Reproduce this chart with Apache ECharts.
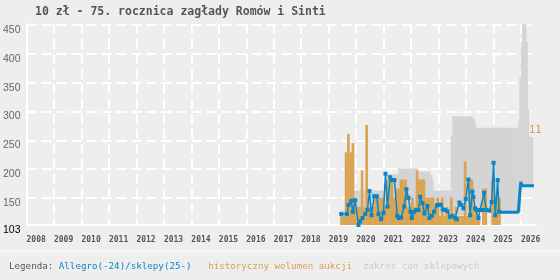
<!DOCTYPE html>
<html><head><meta charset="utf-8">
<script src="https://cdn.jsdelivr.net/npm/echarts@6/dist/echarts.min.js"></script>
<style>html,body{margin:0;padding:0;background:#eeeeee}#c{width:560px;height:280px}</style>
</head><body><div id="c"></div>
<script>
const titleText = '10 zł - 75. rocznica zagłady Romów i Sinti';
const yearTicks = [2008,2009,2010,2011,2012,2013,2014,2015,2016,2017,2018,2019,2020,2021,2022,2023,2024,2025,2026];
const priceTicks = [103,150,200,250,300,350,400,450];
const volumeTicks = [11];

// monthly auction volume, first month = June 2019
const volumeStartYear = 2019, volumeStartMonth = 6;
const volumes = [1,1,8,10,8,9,2,2,2,6,2,11,2,2,2,3,3,3,3,2,5,5,5,3,4,4,5,5,5,2,2,3,2,6,5,5,5,3,3,3,3,2,3,1,3,1,2,1,3,1,2,1,1,1,7,1,5,5,2,2,1,0,4,4,0,0,5,3,3,3];

// Allegro prices (decimal year, price)
const allegroDates = [2019.455,2019.662,2019.72,2019.818,2019.88,2019.964,2020.084,2020.145,2020.229,2020.327,2020.411,2020.484,2020.556,2020.655,2020.753,2020.811,2020.909,2020.993,2021.065,2021.138,2021.236,2021.298,2021.393,2021.491,2021.553,2021.636,2021.745,2021.829,2021.902,2021.975,2022.025,2022.109,2022.182,2022.265,2022.327,2022.411,2022.484,2022.593,2022.665,2022.753,2022.836,2022.935,2022.993,2023.08,2023.153,2023.236,2023.32,2023.418,2023.502,2023.6,2023.662,2023.756,2023.818,2023.902,2023.989,2024.084,2024.145,2024.229,2024.265,2024.327,2024.389,2024.447,2024.509,2024.58,2024.655,2024.73,2024.85,2024.93,2025.0,2025.06,2025.15,2025.2];
const allegroPrices = [122,122,138,145,126,146,103,109,115,122,129,162,120,153,153,122,113,124,192,135,186,181,181,119,115,116,135,165,150,126,115,126,129,129,152,141,123,136,115,119,126,137,138,138,130,129,127,117,119,115,113,142,138,132,148,182,120,161,152,132,129,115,129,129,159,129,128,143,211,120,181,126];

// shop prices (thick line)
const shopDates = [2025.27,2025.90,2025.99,2026.03,2026.47];
const shopPrices = [125,125,178,171,171];

// shop price range (grey band), each value holds until the next date
const rangeDates = [2019.42,2019.60,2019.89,2021.05,2021.53,2022.25,2022.69,2022.76,2022.80,2023.44,2023.50,2024.24,2024.29,2024.35,2025.27,2025.90,2025.94,2025.99,2026.04,2026.18,2026.23,2026.28,2026.43];
const rangeLow  = [118,118,118,118,118,118,118,118,118,120,120,120,122,125,125,125,125,171,171,171,171,171,171];
const rangeHigh = [128,140,163,191,201,196,190,182,163,259,292,288,281,272,272,285,360,421,452,421,303,256,256];

const volData = volumes.map((v,i)=>{
  const m = volumeStartMonth - 1 + i;
  return [volumeStartYear + m/12, volumeStartYear + (m+1)/12, v];
});
const bandData = [];
for (let i=0;i<rangeDates.length-1;i++) bandData.push([rangeDates[i], rangeDates[i+1], rangeLow[i], rangeHigh[i]]);
const allegroData = allegroDates.map((d,i)=>[d, allegroPrices[i]]);
const shopData = shopDates.map((d,i)=>[d, shopPrices[i]]);

const chart = echarts.init(document.getElementById('c'), null, {renderer:'canvas'});
const mono = 'DejaVu Sans Mono';
const blue = '#0a86c8', orange = '#d9a553';

function bandItem(params, api){
  const p0 = api.coord([api.value(0), api.value(3)]);
  const p1 = api.coord([api.value(1), api.value(2)]);
  return {type:'rect', shape:{x:p0[0], y:p0[1], width:p1[0]-p0[0]+0.5, height:p1[1]-p0[1]}, style:{fill:'#d4d4d4'}};
}
function barItem(params, api){
  const p0 = api.coord([api.value(0), api.value(2)]);
  const p1 = api.coord([api.value(1), 0]);
  return {type:'rect', shape:{x:p0[0], y:p0[1], width:p1[0]-p0[0]+0.4, height:p1[1]-p0[1]}, style:{fill:orange}};
}

chart.setOption({
  backgroundColor:'#eeeeee',
  animation:false,
  title:{text:titleText,left:35,top:6,padding:0,textStyle:{fontFamily:mono,fontSize:11.5,fontWeight:'bold',color:'#555555'}},
  grid:{left:26,right:24,top:24,bottom:55,containLabel:false},
  xAxis:{type:'value',min:2008,max:2026.545,
    axisLine:{show:true,lineStyle:{color:'#ffffff',width:2}},
    axisTick:{show:false,customValues:yearTicks},
    axisLabel:{customValues:yearTicks,align:'left',margin:11,fontFamily:mono,fontSize:8,fontWeight:'bold',color:'#555555',formatter:v=>String(v)},
    splitLine:{show:true,lineStyle:{color:'#ffffff',width:2,type:[10,5]}}
  },
  yAxis:[{type:'value',min:103,max:452,
    axisLine:{show:true,lineStyle:{color:'#ffffff',width:2}},
    axisTick:{show:false,customValues:priceTicks},
    axisLabel:{customValues:priceTicks,margin:6,fontFamily:'Liberation Sans',fontSize:10.5,verticalAlign:'top',lineHeight:10,
      color:(v)=> (Number(v)===103 ? '#000000' : '#666666')},
    splitLine:{show:true,lineStyle:{color:'#ffffff',width:2,type:[10,5]}}
  },{type:'value',min:0,max:22.1,position:'right',
    axisLine:{show:false},axisTick:{show:false,customValues:volumeTicks},splitLine:{show:false},
    axisLabel:{customValues:volumeTicks,margin:-7,fontFamily:mono,fontSize:10.5,color:'#d8a050',verticalAlign:'top',lineHeight:10}
  }],
  series:[
    {type:'custom',renderItem:bandItem,data:bandData,encode:{x:[0,1],y:[2,3]},silent:true,z:1},
    {type:'custom',yAxisIndex:1,renderItem:barItem,data:volData,encode:{x:[0,1],y:2},silent:true,z:2},
    {type:'line',data:allegroData,symbol:'rect',symbolSize:4,showSymbol:true,lineStyle:{color:blue,width:1.5},itemStyle:{color:blue},silent:true,z:3},
    {type:'line',data:shopData,symbol:'none',lineStyle:{color:blue,width:3},silent:true,z:3}
  ],
  graphic:[
    {type:'rect',left:0,top:250,shape:{width:560,height:3},style:{fill:'#f6f6f6'}},
    {type:'text',left:9,top:262,style:{
      text:'{l|Legenda:} {a|Allegro(-24)/sklepy(25-)}   {h|historyczny wolumen aukcji}  {z|zakres cen sklepowych}',
      font:'9.2px "DejaVu Sans Mono"',
      rich:{l:{fontFamily:mono,fontSize:9.2,fill:'#555555'},
            a:{fontFamily:mono,fontSize:9.2,fill:blue},
            h:{fontFamily:mono,fontSize:9.2,fill:'#d8a050'},
            z:{fontFamily:mono,fontSize:9.2,fill:'#cccccc'}}
    }}
  ]
});
</script></body></html>
